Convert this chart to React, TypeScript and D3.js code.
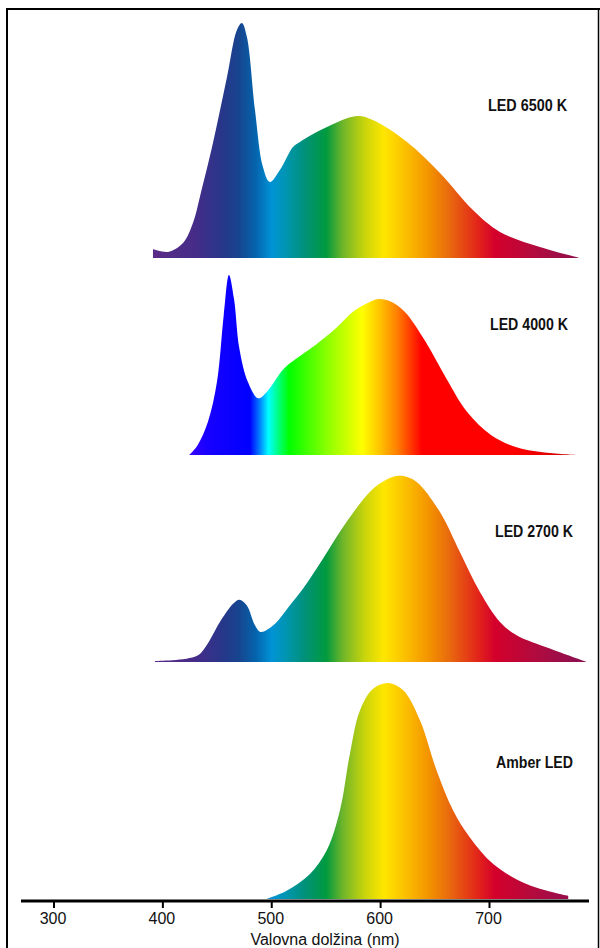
import React from 'react';
import * as d3 from 'd3';

const WIDTH = 600;
const HEIGHT = 948;

// ---- data (wavelength nm, relative intensity 0-100) ----
const tickValues = [300, 400, 500, 600, 700];
const axisTitle = 'Valovna dolžina (nm)';
const seriesNames = ['LED 6500 K', 'LED 4000 K', 'LED 2700 K', 'Amber LED'];

const wl6500 = [390.9, 404.7, 418.5, 427.6, 434, 446, 458.9, 468, 472.6, 477.2, 484.6, 491.9, 498.3, 507.5, 519.5, 525.9, 550.7, 578.2, 592.9, 624.2, 654.5, 684.8, 709.6, 746.3, 783];
const val6500 = [3.8, 2.6, 6.4, 14.9, 26, 48.9, 77, 97, 100, 94, 63, 38.7, 32.3, 37.4, 47.2, 49.4, 55.7, 60.4, 58.7, 49.4, 36.2, 20.4, 11.1, 4.7, 0];

const wl4000 = [424.2, 432, 441.4, 449.7, 455.9, 460.7, 465.3, 470.2, 478, 487.6, 495.6, 511.3, 527.2, 539.9, 558.9, 574.6, 590.4, 598.6, 609.6, 622.1, 641.2, 660.2, 679.3, 701.3, 723.4, 748.9, 780];
const val4000 = [0, 5.6, 18.5, 40.7, 77.8, 100, 87, 59.3, 40.7, 31.5, 35.2, 48.1, 55.6, 61, 70.4, 79.6, 85.2, 86.7, 85.2, 79.6, 63, 42.6, 24, 11.1, 4.6, 1.5, 0];

const wl2700 = [392.7, 431, 440.2, 452.4, 464.7, 470.2, 477, 484.6, 489.8, 501.4, 516.7, 529, 547.3, 568.8, 593.3, 611.6, 620.8, 633.1, 654.5, 672.8, 691.2, 709.6, 724.9, 755.5, 789.2];
const val2700 = [0.5, 3.2, 9, 21.5, 31.4, 33.5, 30.5, 19.7, 16.1, 19.7, 30.5, 39.6, 55.8, 75.4, 93.3, 99.6, 100, 96.8, 80.6, 59.1, 37.6, 21.5, 14.4, 7.2, 0];

const wlAmber = [495.3, 513.7, 535.1, 550.4, 562.6, 571.8, 581, 593.3, 607.1, 620.8, 636.1, 651.4, 666.7, 682, 703.4, 734, 764.6, 772.3];
const valAmber = [0, 3.8, 11.6, 22.4, 41, 67.3, 87.3, 97.4, 100, 96.6, 82.7, 59.5, 40.9, 28.5, 16.2, 6.9, 2.3, 1.5];

// ---- colour stops (wavelength -> colour) ----
const printStops: [number, string][] = [
  [390, '#5b2b87'], [430, '#452c88'], [455, '#26378a'], [470, '#17458f'], [485, '#0563ad'],
  [500, '#0093d6'], [512, '#0095b4'], [530, '#00917a'], [550, '#009a3e'], [565, '#6db52a'],
  [585, '#c8d40c'], [603, '#ffe600'], [625, '#fbbb00'], [645, '#f39200'], [665, '#e8650f'],
  [690, '#e2231a'], [705, '#d4002b'], [740, '#b30a3d'], [785, '#8c1050'],
];
const rgbStops: [number, string][] = [
  [420, '#4400ff'], [440, '#1800ff'], [480, '#0000ff'], [489, '#0080ff'], [497, '#00ffff'],
  [506, '#00ff80'], [516, '#00ff00'], [550, '#88ff00'], [583, '#ffff00'], [600, '#ffc000'],
  [615, '#ff8000'], [638, '#ff0000'], [720, '#ff0000'], [785, '#c80000'],
];

const x = d3.scaleLinear().domain([300, 700]).range([54, 489.5]);

type Panel = { name: string; wl: number[]; val: number[]; base: number; top: number; grad: string; lx: number; ly: number; lw: number };
const panels: Panel[] = [
  { name: seriesNames[0], wl: wl6500, val: val6500, base: 258, top: 23, grad: 'gPrint', lx: 567, ly: 111, lw: 79 },
  { name: seriesNames[1], wl: wl4000, val: val4000, base: 455, top: 275, grad: 'gRgb', lx: 568, ly: 330, lw: 78 },
  { name: seriesNames[2], wl: wl2700, val: val2700, base: 662, top: 476, grad: 'gPrint', lx: 573, ly: 537, lw: 78 },
  { name: seriesNames[3], wl: wlAmber, val: valAmber, base: 899, top: 683, grad: 'gPrint', lx: 573, ly: 768, lw: 77 },
];

function Gradient({ id, stops }: { id: string; stops: [number, string][] }) {
  const x1 = x(stops[0][0]);
  const x2 = x(stops[stops.length - 1][0]);
  return (
    <linearGradient id={id} gradientUnits="userSpaceOnUse" x1={x1} x2={x2} y1={0} y2={0}>
      {stops.map(([w, c], i) => (
        <stop key={i} offset={(x(w) - x1) / (x2 - x1)} stopColor={c} />
      ))}
    </linearGradient>
  );
}

export default function App() {
  const font = '"Liberation Sans", Arial, sans-serif';
  return (
    <div style={{ position: 'absolute', left: 0, top: 0 }}>
      <svg width={WIDTH} height={HEIGHT} style={{ display: 'block', background: '#fff' }}>
        <defs>
          <Gradient id="gPrint" stops={printStops} />
          <Gradient id="gRgb" stops={rgbStops} />
          {panels.map((p, i) => (
            <clipPath key={i} id={`clip${i}`}>
              <rect x={0} y={0} width={WIDTH} height={p.base} />
            </clipPath>
          ))}
        </defs>
        <rect x={0} y={0} width={WIDTH} height={HEIGHT} fill="#fff" />
        {panels.map((p, i) => {
          const y = d3.scaleLinear().domain([0, 100]).range([p.base, p.top]);
          const pts = p.wl.map((w, k) => [w, p.val[k]] as [number, number]);
          const area = d3
            .area<[number, number]>()
            .x((d) => x(d[0]))
            .y0(p.base)
            .y1((d) => y(d[1]))
            .curve(d3.curveCatmullRom.alpha(0.5));
          return (
            <g key={i}>
              <path d={area(pts) || ''} fill={`url(#${p.grad})`} clipPath={`url(#clip${i})`} />
              <text
                x={p.lx}
                y={p.ly}
                textAnchor="end"
                fontFamily={font}
                fontWeight="bold"
                fontSize={16}
                textLength={p.lw}
                lengthAdjust="spacingAndGlyphs"
                fill="#111"
              >
                {p.name}
              </text>
            </g>
          );
        })}
        {/* frame */}
        <line x1={6} x2={600} y1={9} y2={9} stroke="#000" strokeWidth={2} />
        <line x1={7} x2={7} y1={8} y2={948} stroke="#000" strokeWidth={2} />
        <line x1={598.5} x2={598.5} y1={8} y2={948} stroke="#000" strokeWidth={1.5} />
        {/* axis */}
        <line x1={21} x2={589} y1={901} y2={901} stroke="#000" strokeWidth={3} />
        {tickValues.map((t) => (
          <g key={t}>
            <line x1={x(t)} x2={x(t)} y1={901} y2={908} stroke="#000" strokeWidth={2} />
            <text x={x(t) - 1} y={924} textAnchor="middle" fontFamily={font} fontSize={16} fill="#111">
              {t}
            </text>
          </g>
        ))}
        <text x={325} y={945} textAnchor="middle" fontFamily={font} fontSize={16} fill="#111">
          {axisTitle}
        </text>
      </svg>
    </div>
  );
}
